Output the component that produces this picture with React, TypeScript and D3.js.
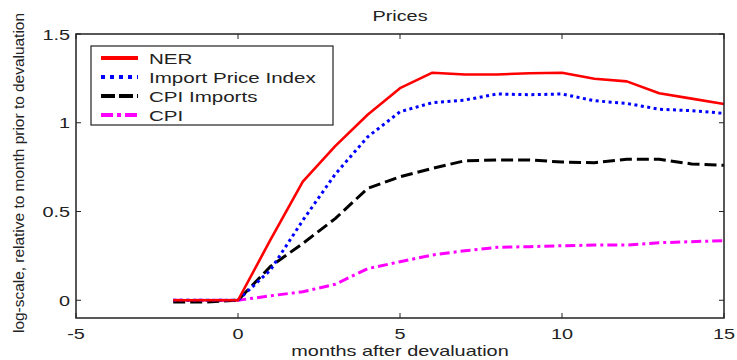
import React from 'react';
import * as d3 from 'd3';

// months relative to devaluation
const months = [-2, -1, 0, 1, 2, 3, 4, 5, 6, 7, 8, 9, 10, 11, 12, 13, 14, 15];

const ner = [0, 0, 0, 0.34, 0.668, 0.868, 1.045, 1.195, 1.282, 1.272, 1.272, 1.279, 1.282, 1.248, 1.233, 1.166, 1.136, 1.106];
const importPrice = [0, 0, 0, 0.17, 0.45, 0.71, 0.92, 1.062, 1.113, 1.128, 1.162, 1.158, 1.162, 1.124, 1.109, 1.076, 1.068, 1.053];
const cpiImports = [-0.01, -0.01, 0, 0.19, 0.32, 0.46, 0.63, 0.696, 0.743, 0.786, 0.79, 0.79, 0.779, 0.775, 0.794, 0.794, 0.768, 0.76];
const cpi = [0, 0, 0, 0.025, 0.048, 0.09, 0.178, 0.217, 0.255, 0.279, 0.298, 0.302, 0.307, 0.311, 0.311, 0.324, 0.33, 0.336];

const xTicks = [-5, 0, 5, 10, 15];
const yTicks = [0, 0.5, 1, 1.5];
const yTickLabels = ['0', '0.5', '1', '1.5'];

const seriesNames = ['NER', 'Import Price Index', 'CPI Imports', 'CPI'];
const seriesColors = ['#ff0000', '#0000ff', '#000000', '#ff00ff'];
const seriesDash = ['none', '3,3.5', '12,5', '10,4,3,4'];
const legendDash = ['none', '4,5', '14,4', '12,4,4,4'];

const W = 737;
const H = 360;
const margin = { top: 34, right: 13, bottom: 42, left: 76 };
const FONT = '"Liberation Sans", Arial, Helvetica, sans-serif';
const STRETCH = 1.37;
const AXIS = '#222';

// text stretched horizontally like the reference
const SText = ({ x, y, anchor = 'start', size = 14.5, children }: any) => (
  <g transform={`translate(${x},${y}) scale(${STRETCH},1)`}>
    <text x={0} y={0} textAnchor={anchor} fontSize={size} fontFamily={FONT} fill="#222">
      {children}
    </text>
  </g>
);

export default function App() {
  const innerW = W - margin.left - margin.right;
  const innerH = H - margin.top - margin.bottom;

  const x = d3.scaleLinear().domain([-5, 15]).range([margin.left, margin.left + innerW]);
  const y = d3.scaleLinear().domain([-0.1, 1.5]).range([margin.top + innerH, margin.top]);

  const series = [ner, importPrice, cpiImports, cpi];
  const line = d3.line<number>()
    .x((_, i) => x(months[i]))
    .y(d => y(d));

  const x0 = x.range()[0];
  const x1 = x.range()[1];
  const y0 = y.range()[0];
  const y1 = y.range()[1];
  const tick = 5;

  const legend = { x: 91, y: 46, w: 242, h: 79, row: 19 };

  return (
    <svg width={W} height={H} style={{ position: 'absolute', left: 0, top: 0, background: '#fff' }}>
      {/* title */}
      <SText x={(x0 + x1) / 2} y={21} anchor="middle">Prices</SText>

      {/* series */}
      {series.map((s, i) => (
        <path
          key={seriesNames[i]}
          d={line(s) || ''}
          fill="none"
          stroke={seriesColors[i]}
          strokeWidth={i === 0 ? 2.6 : 3}
          strokeDasharray={seriesDash[i]}
          strokeLinejoin="round"
        />
      )).reverse()}

      {/* frame */}
      <rect x={x0} y={y1} width={x1 - x0} height={y0 - y1} fill="none" stroke={AXIS} strokeWidth={1.5} />

      {/* x ticks, bottom and top */}
      {xTicks.map(t => (
        <g key={'x' + t}>
          <line x1={x(t)} x2={x(t)} y1={y0} y2={y0 - tick} stroke={AXIS} strokeWidth={1} />
          <line x1={x(t)} x2={x(t)} y1={y1} y2={y1 + tick} stroke={AXIS} strokeWidth={1} />
          <SText x={x(t)} y={339} anchor="middle">{String(t)}</SText>
        </g>
      ))}

      {/* y ticks, left and right */}
      {yTicks.map((t, i) => (
        <g key={'y' + t}>
          <line x1={x0} x2={x0 + tick} y1={y(t)} y2={y(t)} stroke={AXIS} strokeWidth={1} />
          <line x1={x1} x2={x1 - tick} y1={y(t)} y2={y(t)} stroke={AXIS} strokeWidth={1} />
          <SText x={70} y={y(t) + 5.5} anchor="end">{yTickLabels[i]}</SText>
        </g>
      ))}

      {/* axis labels */}
      <SText x={(x0 + x1) / 2} y={356} anchor="middle">months after devaluation</SText>
      <text
        transform={`translate(24,173) rotate(-90)`}
        textAnchor="middle"
        fontSize={15}
        fontFamily={FONT}
        fill="#222"
        textLength={320}
        lengthAdjust="spacingAndGlyphs"
      >
        log-scale, relative to month prior to devaluation
      </text>

      {/* legend */}
      <rect x={legend.x} y={legend.y} width={legend.w} height={legend.h} fill="#fff" stroke={AXIS} strokeWidth={1.2} />
      {seriesNames.map((name, i) => {
        const ly = legend.y + 12 + i * legend.row;
        return (
          <g key={'leg' + name}>
            <line
              x1={101}
              x2={138}
              y1={ly}
              y2={ly}
              stroke={seriesColors[i]}
              strokeWidth={4}
              strokeDasharray={legendDash[i]}
            />
            <SText x={149} y={ly + 5.5} size={15}>{name}</SText>
          </g>
        );
      })}
    </svg>
  );
}
